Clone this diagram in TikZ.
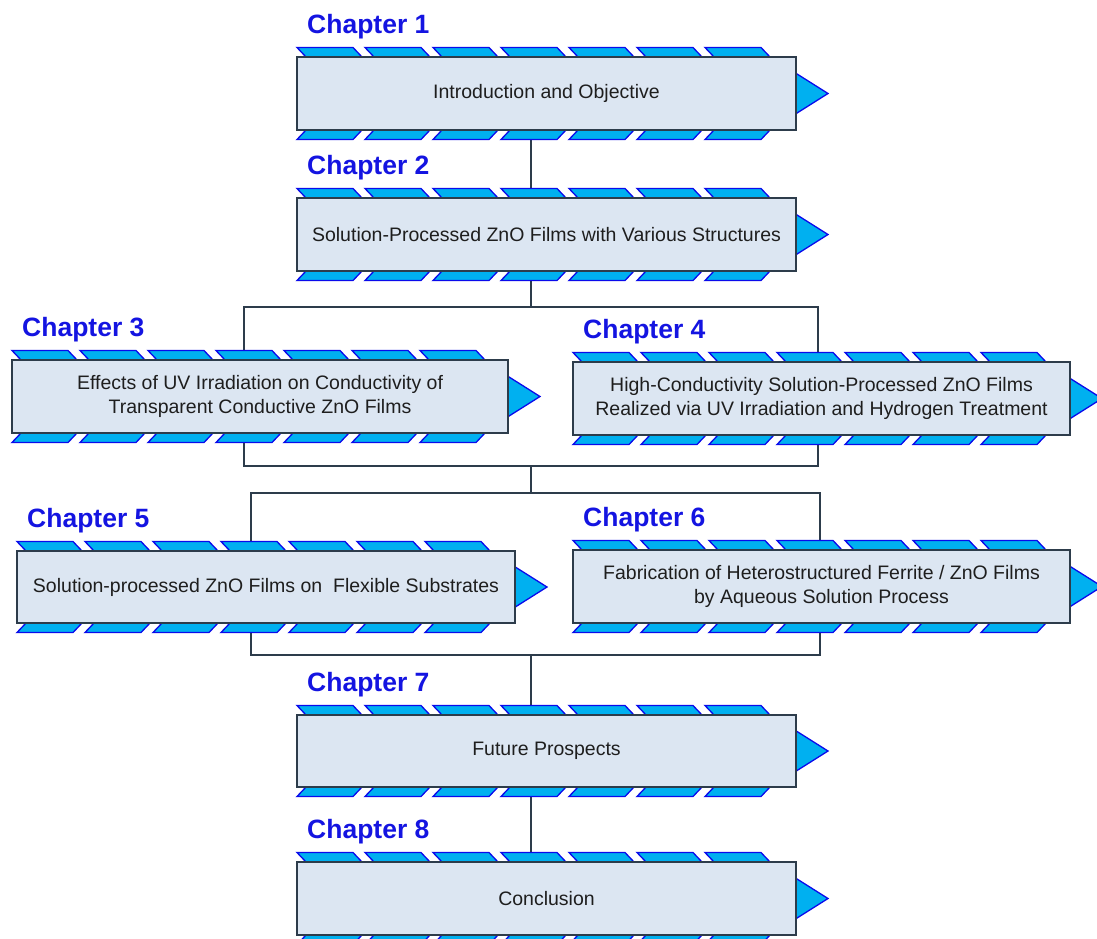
\documentclass[tikz,border=0pt]{standalone}
\usepackage{fontspec}
\setmainfont{Liberation Sans}
\pgfdeclarelayer{bg}
\pgfsetlayers{bg,main}
\definecolor{decofill}{RGB}{0,176,240}
\definecolor{decoline}{RGB}{10,10,235}
\definecolor{boxfill}{RGB}{220,230,242}
\definecolor{boxline}{RGB}{45,60,75}
\definecolor{titleblue}{RGB}{20,20,225}
\definecolor{txt}{RGB}{30,30,30}
\tikzset{
  deco/.style={fill=decofill, draw=decoline, line width=1.3pt, line join=miter},
  chbox/.style={draw=boxline, fill=boxfill, line width=1.8pt, inner sep=0pt, align=center,
    text=txt, font=\fontsize{19.5}{24}\selectfont},
  chtitle/.style={text=titleblue, font=\bfseries\fontsize{26.5}{30}\selectfont, inner sep=0pt},
  conn/.style={draw=boxline, line width=2.2pt}
}
\newcommand\chapbox[7]{%
  \pgfmathsetmacro\cy{(#3+#5)/2}
  \filldraw[deco] (#4-14,\cy-29) -- (#4+32,\cy) -- (#4-14,\cy+29) -- cycle;
  \foreach \k in {0,...,6}{
    \pgfmathsetmacro\xx{#2+68*\k}
    \filldraw[deco] (\xx,#3-9.5) -- (\xx+56,#3-9.5) -- (\xx+65,#3) -- (\xx+9,#3) -- cycle;
    \filldraw[deco] (\xx+9,#5) -- (\xx+65,#5) -- (\xx+56,#5+9.5) -- (\xx,#5+9.5) -- cycle;
  }
  \node[chbox, minimum width={(#4-#2)*1pt}, minimum height={(#5-#3)*1pt}] (#1) at ({(#2+#4)/2},\cy) {#7};
  \node[chtitle, anchor=base west] (#1t) at (#2+10,#3-24) {#6};
}
\begin{document}
\begin{tikzpicture}[x=1pt,y=-1pt]
\useasboundingbox (0,0) rectangle (1097,938);
\chapbox{c1}{297}{57}{796}{130}{Chapter 1}{Introduction and Objective}
\chapbox{c2}{297}{198}{796}{271}{Chapter 2}{Solution-Processed ZnO Films with Various Structures}
\chapbox{c3}{12}{360}{508}{433}{Chapter 3}{Effects of UV Irradiation on Conductivity of\\Transparent Conductive ZnO Films}
\chapbox{c4}{573}{362}{1070}{435}{Chapter 4}{High-Conductivity Solution-Processed ZnO Films\\Realized via UV Irradiation and Hydrogen Treatment}
\chapbox{c5}{17}{551}{515}{623}{Chapter 5}{Solution-processed ZnO Films on\ \ Flexible Substrates}
\chapbox{c6}{573}{550}{1070}{623}{Chapter 6}{Fabrication of Heterostructured Ferrite / ZnO Films\\by Aqueous Solution Process}
\chapbox{c7}{297}{715}{796}{787}{Chapter 7}{Future Prospects}
\chapbox{c8}{297}{862}{796}{935}{Chapter 8}{Conclusion}
\coordinate (mid) at (531,0);
\coordinate (a) at (531,307);
\coordinate (aL) at (244,307);
\coordinate (aR) at (818,307);
\coordinate (bL) at (244,466);
\coordinate (bR) at (818,466);
\coordinate (b) at (531,466);
\coordinate (c) at (531,493);
\coordinate (cL) at (251,493);
\coordinate (cR) at (820,493);
\coordinate (dL) at (251,655);
\coordinate (dR) at (820,655);
\coordinate (d) at (531,655);
\begin{pgfonlayer}{bg}
\draw[conn] (c1.south -| mid) -- (c2.north -| mid);
\draw[conn] (c2.south -| mid) -- (a);
\draw[conn] (c3.north -| aL) -- (aL) -- (aR) -- (c4.north -| aR);
\draw[conn] (c3.south -| bL) -- (bL) -- (bR) -- (c4.south -| bR);
\draw[conn] (b) -- (c);
\draw[conn] (c5.north -| cL) -- (cL) -- (cR) -- (c6.north -| cR);
\draw[conn] (c5.south -| dL) -- (dL) -- (dR) -- (c6.south -| dR);
\draw[conn] (d) -- (c7.north -| mid);
\draw[conn] (c7.south -| mid) -- (c8.north -| mid);
\end{pgfonlayer}
\end{tikzpicture}
\end{document}
